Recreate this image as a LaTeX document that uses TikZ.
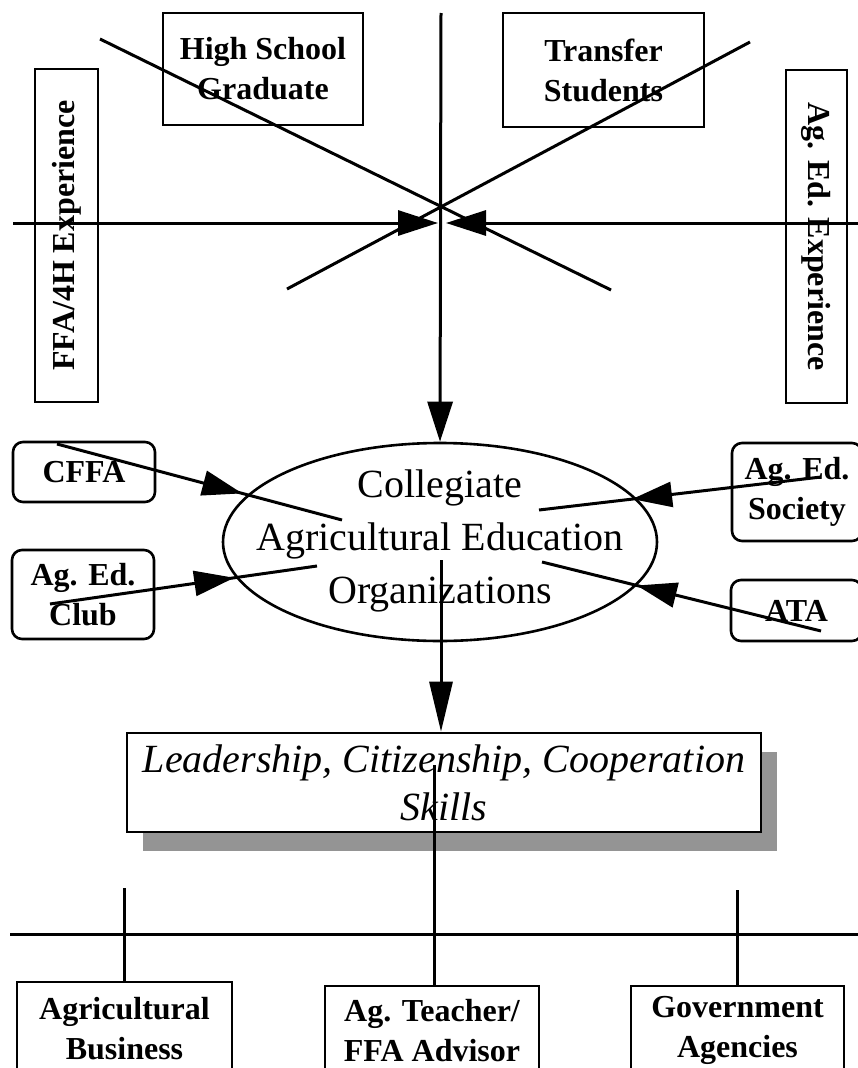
\documentclass[tikz,border=0pt]{standalone}
\usepackage{fontspec}
\setmainfont{Liberation Serif}
\usetikzlibrary{arrows.meta,shapes.geometric,shadows,decorations.markings}
\tikzset{
  box/.style={draw, line width=2.6pt, align=center, inner sep=0pt, font=\fontsize{32}{40}\selectfont\bfseries},
  rbox/.style={box, rounded corners=10pt},
  link/.style={line width=3pt},
  bigtip/.style={-{Triangle[length=40pt,width=25pt]}},
  longtip/.style={-{Triangle[length=50pt,width=23pt]}},
  midtip/.style={postaction={decorate}, decoration={markings, mark=at position #1 with {\arrow{Triangle[length=40pt,width=25pt]}}}}
}

\begin{document}
\begin{tikzpicture}[x=1pt,y=-1pt]
\useasboundingbox (0,0) rectangle (858,1068);
\clip (0,0) rectangle (858,1068);
% top boxes
\node[box, minimum width=200pt, minimum height=112pt] (hsg) at (263,69) {High School\\Graduate};
\node[box, minimum width=201pt, minimum height=114pt] (trans) at (603.5,70) {Transfer\\Students};
\node[box, rotate=90, minimum width=333pt, minimum height=63pt] (ffa) at (66.5,235.5) {FFA/4H Experience};
\node[box, rotate=-90, minimum width=333pt, minimum height=61pt] (agexp) at (816.5,236.5) {Ag. Ed. Experience};
% centre
\node[draw, ellipse, line width=2.6pt, inner sep=0pt, minimum width=434pt, minimum height=198pt] (cae) at (440,542) {};
\node[align=center, font=\fontsize{40}{53}\selectfont] (caetext) at (440,541) {Collegiate\\Agricultural Education\\Organizations};
\node[rbox, minimum width=142pt, minimum height=60pt] (cffa) at (84,472) {CFFA};
\node[rbox, minimum width=142pt, minimum height=89pt] (club) at (83,594.5) {Ag. Ed.\\Club};
\node[rbox, minimum width=130pt, minimum height=98pt] (soc) at (797,492) {Ag. Ed.\\Society};
\node[rbox, minimum width=131pt, minimum height=61pt] (ata) at (796.5,610.5) {ATA};
% skills
\node[box, font=\fontsize{40}{48}\selectfont\itshape, fill=white, minimum width=634pt, minimum height=99pt,
  drop shadow={shadow xshift=16pt, shadow yshift=-19pt, fill=black!42, opacity=1}] (lcc) at (444,782.5)
  {Leadership, Citizenship, Cooperation\\Skills};
% careers
\node[box, minimum width=215pt, minimum height=93pt] (agbus) at (124.5,1028.5) {Agricultural\\Business};
\node[box, minimum width=214pt, minimum height=89pt] (teach) at (432,1030.5) {Ag. Teacher/\\FFA Advisor};
\node[box, minimum width=213pt, minimum height=89pt] (gov) at (737.5,1030.5) {Government\\Agencies};

\coordinate (top) at (441,13);
\coordinate (hl) at (13,223);
\coordinate (hr) at (858,223);
\coordinate (hubl) at (438,223);
\coordinate (hubr) at (446,223);
\coordinate (xa) at (100,39);
\coordinate (xb) at (611,290);
\coordinate (ya) at (750,42);
\coordinate (yb) at (287,289);
\draw[link] (xa) -- (xb);
\draw[link] (ya) -- (yb);
\draw[link, bigtip] (hl) -- (hubl);
\draw[link, bigtip] (hr) -- (hubr);
\draw[link, bigtip] (top) -- (cae.north);

% side arrows
\coordinate (cffaS) at (57,444);
\coordinate (cffaE) at (342,520);
\coordinate (clubS) at (50,604);
\coordinate (clubE) at (317,566);
\coordinate (socS) at (821,477);
\coordinate (socE) at (539,510);
\coordinate (ataS) at (821,631);
\coordinate (ataE) at (542,562);
\draw[link, midtip=0.65] (cffaS) -- (cffaE);
\draw[link, midtip=0.69] (clubS) -- (clubE);
\draw[link, midtip=0.67] (socS) -- (socE);
\draw[link, midtip=0.66] (ataS) -- (ataE);

% down to skills and careers
\coordinate (c1) at (441,560);
\coordinate (c2) at (434,765);
\draw[link, longtip] (c1) -- (c1 |- lcc.north);
\draw[link] (c2) -- (c2 |- teach.north);
\coordinate (bl) at (10,934);
\coordinate (br) at (858,934);
\draw[link] (bl) -- (br);
\draw[link] (agbus.north) -- ++(0,-93);
\draw[link] (gov.north) -- ++(0,-95);
\end{tikzpicture}
\end{document}
